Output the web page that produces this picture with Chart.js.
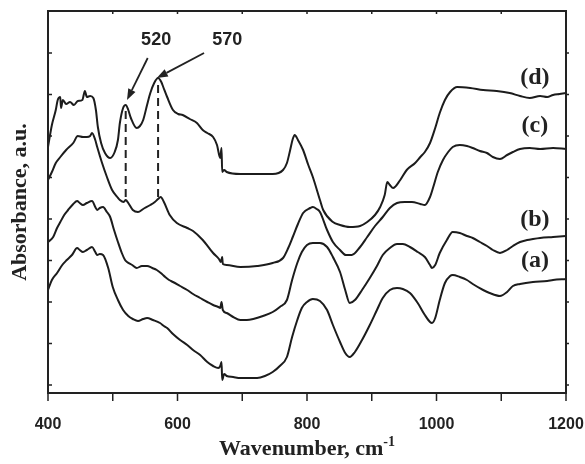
<!DOCTYPE html>
<html>
<head>
<meta charset="utf-8">
<script src="https://cdn.jsdelivr.net/npm/chart.js@4"></script>
<style>
  html, body { margin: 0; padding: 0; background: #fff; }
  canvas { display: block; }
</style>
</head>
<body>
<canvas id="ir" width="585" height="464"></canvas>
<script>
// FTIR spectra, absorbance in arbitrary units (curves offset vertically)
const wnA = [400,406,414,422,429,437,445,449,454,460,468,473,476,480,485,493,500,508,516,524,531,539,547,553,562,573,579,584,593,604,615,624,635,646,655,663,666,668,669,672,676,686,697,712,723,735,747,758,769,777,785,792,800,809,820,831,840,851,859,866,874,885,897,908,917,928,939,948,959,971,982,990,993,998,1005,1013,1021,1025,1036,1047,1056,1072,1082,1098,1109,1118,1129,1149,1171,1180,1200];
const absA = [103,113,120,128,133,138,145,143,141,143,146,141,138,139,138,125,106,93,83,77,74,72,74,75,73,70,67,65,59,53,48,43,38,31,27,25,27,31,13,19,17,16,15,15,15,17,21,27,36,56,73,85,91,94,92,83,68,51,40,36,41,53,68,83,95,103,105,104,100,90,78,71,70,75,93,110,117,118,116,113,109,103,100,97,101,107,109,111,112,113,114];

const wnB = [400,408,414,419,425,431,439,445,449,454,460,468,473,476,480,485,491,496,502,508,514,519,522,530,537,545,553,561,568,576,581,587,593,604,615,624,635,646,655,663,666,668,670,676,686,697,707,717,732,747,758,769,777,785,792,800,809,820,831,840,851,859,866,874,885,897,908,917,928,939,948,959,971,982,990,993,998,1005,1016,1025,1036,1047,1056,1067,1078,1087,1098,1109,1118,1129,1140,1149,1160,1180,1200];
const absB = [151,156,165,171,178,183,189,192,190,188,190,192,186,183,185,186,181,176,163,151,140,133,131,128,125,127,127,125,123,119,116,113,111,107,103,99,95,91,88,86,85,91,83,80,76,73,73,74,77,81,86,93,113,130,141,148,150,150,146,136,121,103,90,93,103,115,127,138,145,149,149,146,141,136,128,125,128,140,153,161,160,157,155,151,147,143,140,143,147,151,153,154,155,156,157];

const wnC = [400,406,412,419,428,439,446,454,460,465,468,473,476,483,491,499,507,511,517,520,524,531,539,547,558,565,570,574,579,588,599,615,624,639,655,664,667,669,670,676,697,723,747,763,771,778,786,794,805,809,815,820,831,840,851,860,869,882,893,905,917,928,939,951,962,975,982,990,995,1002,1010,1018,1025,1036,1047,1056,1067,1078,1087,1098,1109,1118,1129,1144,1160,1180,1200];
const absC = [213,221,230,236,243,250,257,256,256,257,260,253,246,231,216,203,196,193,191,193,190,183,181,184,188,191,194,196,191,178,170,165,162,153,140,134,131,136,129,128,126,127,130,135,145,156,169,180,185,186,184,181,163,151,143,138,138,146,156,167,176,185,190,191,191,189,188,196,206,221,233,241,246,248,247,245,242,240,236,234,238,241,244,245,244,245,244];

const wnD = [400,406,412,415,419,420,423,428,434,440,446,453,457,460,465,470,474,477,482,488,496,503,508,511,516,520,524,528,537,542,547,553,558,564,570,575,578,584,593,601,608,619,630,639,646,655,661,666,668,669,672,676,697,723,747,763,769,774,778,781,786,794,802,809,820,825,840,851,866,882,893,905,913,920,924,928,933,944,954,967,975,982,990,998,1005,1013,1021,1032,1052,1072,1093,1113,1129,1144,1160,1171,1180,1190,1200];
const absD = [246,268,283,293,296,285,293,289,291,288,292,293,302,296,297,295,283,266,250,240,235,241,253,270,285,288,283,275,265,267,273,288,300,310,315,311,306,296,283,279,278,274,270,263,260,256,248,235,245,221,223,221,219,219,219,223,230,243,254,258,253,243,228,216,193,183,171,168,166,167,171,178,186,198,211,208,205,213,223,230,236,241,250,265,280,293,301,306,305,303,302,300,297,295,297,296,298,299,300];

const xMin = 400, xMax = 1200, yMin = 0, yMax = 382;
const xLabels = [400, 600, 800, 1000, 1200];
const xTicks = [400, 500, 600, 700, 800, 900, 1000, 1100, 1200];
const yTicks = [8, 49.5, 91, 132.5, 174, 215.5, 257, 298.5, 340];

const curveNames = ['(a)', '(b)', '(c)', '(d)'];
const curveNameY = [132, 173, 267, 315];
const curveNameX = 1152;

// marked bands: wavenumber, dashed line top/bottom, label and arrow tail/tip
const bandWn = [520, 570];
const bandTop = [282, 308];
const bandBottom = [192, 196];
const bandLabelWn = [567, 677];
const bandLabelY = 353;
const arrowTail = [[554, 335], [641, 340]];
const arrowTip = [[522, 293], [568, 315]];

const pts = (xs, ys) => xs.map((x, i) => ({x: x, y: ys[i]}));
const lineColor = '#1c1c1c';

function makeSet(xs, ys) {
  return {
    data: pts(xs, ys),
    borderColor: lineColor,
    borderWidth: 2,
    pointRadius: 0,
    fill: false,
    cubicInterpolationMode: 'monotone'
  };
}

function arrow(ctx, x1, y1, x2, y2) {
  const a = Math.atan2(y2 - y1, x2 - x1);
  const len = 11, half = 4;
  const bx = x2 - len * Math.cos(a), by = y2 - len * Math.sin(a);
  ctx.beginPath();
  ctx.moveTo(x1, y1);
  ctx.lineTo(bx, by);
  ctx.stroke();
  ctx.beginPath();
  ctx.moveTo(x2, y2);
  ctx.lineTo(bx + half * Math.sin(a), by - half * Math.cos(a));
  ctx.lineTo(bx - half * Math.sin(a), by + half * Math.cos(a));
  ctx.closePath();
  ctx.fill();
}

const framePlugin = {
  id: 'frame',
  afterDraw(chart) {
    const ctx = chart.ctx, xs = chart.scales.x, ys = chart.scales.y;
    const a = chart.chartArea;
    ctx.save();
    ctx.strokeStyle = '#222';
    ctx.fillStyle = '#222';

    // box
    ctx.lineWidth = 2;
    ctx.strokeRect(a.left, a.top, a.right - a.left, a.bottom - a.top);

    // ticks
    ctx.lineWidth = 1.5;
    ctx.beginPath();
    xTicks.forEach(v => {
      const px = xs.getPixelForValue(v);
      ctx.moveTo(px, a.bottom); ctx.lineTo(px, a.bottom + 8);
      ctx.moveTo(px, a.top); ctx.lineTo(px, a.top + 3);
    });
    yTicks.forEach(v => {
      const py = ys.getPixelForValue(v);
      ctx.moveTo(a.left, py); ctx.lineTo(a.left + 4, py);
      ctx.moveTo(a.right, py); ctx.lineTo(a.right + 3, py);
    });
    ctx.stroke();

    // tick labels
    ctx.font = 'bold 16px "Liberation Sans", Arial, sans-serif';
    ctx.textAlign = 'center';
    ctx.textBaseline = 'alphabetic';
    xLabels.forEach(v => ctx.fillText(String(v), xs.getPixelForValue(v), 429));

    // x title with superscript
    ctx.font = 'bold 22px "Liberation Serif", "Times New Roman", serif';
    const main = 'Wavenumber, cm';
    const wMain = ctx.measureText(main).width;
    ctx.font = 'bold 14px "Liberation Serif", "Times New Roman", serif';
    const wSup = ctx.measureText('-1').width;
    const cx = (a.left + a.right) / 2;
    const startX = cx - (wMain + wSup) / 2;
    ctx.textAlign = 'left';
    ctx.font = 'bold 22px "Liberation Serif", "Times New Roman", serif';
    ctx.fillText(main, startX, 455);
    ctx.font = 'bold 14px "Liberation Serif", "Times New Roman", serif';
    ctx.fillText('-1', startX + wMain, 446);

    // y title
    ctx.save();
    ctx.translate(26, (a.top + a.bottom) / 2);
    ctx.rotate(-Math.PI / 2);
    ctx.textAlign = 'center';
    ctx.font = 'bold 22px "Liberation Serif", "Times New Roman", serif';
    ctx.fillText('Absorbance, a.u.', 0, 0);
    ctx.restore();

    // curve names
    ctx.textAlign = 'center';
    ctx.textBaseline = 'middle';
    ctx.font = 'bold 24px "Liberation Serif", "Times New Roman", serif';
    curveNames.forEach((n, i) => {
      ctx.fillText(n, xs.getPixelForValue(curveNameX), ys.getPixelForValue(curveNameY[i]));
    });

    // band markers
    ctx.font = 'bold 18px "Liberation Sans", Arial, sans-serif';
    bandWn.forEach((wn, i) => {
      const px = xs.getPixelForValue(wn);
      ctx.lineWidth = 2;
      ctx.setLineDash([8, 5]);
      ctx.beginPath();
      ctx.moveTo(px, ys.getPixelForValue(bandTop[i]));
      ctx.lineTo(px, ys.getPixelForValue(bandBottom[i]));
      ctx.stroke();
      ctx.setLineDash([]);
      ctx.fillText(String(wn), xs.getPixelForValue(bandLabelWn[i]), ys.getPixelForValue(bandLabelY));
      ctx.lineWidth = 1.8;
      arrow(ctx,
        xs.getPixelForValue(arrowTail[i][0]), ys.getPixelForValue(arrowTail[i][1]),
        xs.getPixelForValue(arrowTip[i][0]), ys.getPixelForValue(arrowTip[i][1]));
    });
    ctx.restore();
  }
};

new Chart(document.getElementById('ir'), {
  type: 'line',
  data: {
    datasets: [
      makeSet(wnA, absA),
      makeSet(wnB, absB),
      makeSet(wnC, absC),
      makeSet(wnD, absD)
    ]
  },
  options: {
    responsive: false,
    animation: false,
    devicePixelRatio: 1,
    layout: { padding: { left: 48, right: 19, top: 11, bottom: 71 } },
    plugins: { legend: { display: false }, tooltip: { enabled: false } },
    scales: {
      x: { type: 'linear', min: xMin, max: xMax, display: false },
      y: { min: yMin, max: yMax, display: false }
    }
  },
  plugins: [framePlugin]
});
</script>
</body>
</html>
